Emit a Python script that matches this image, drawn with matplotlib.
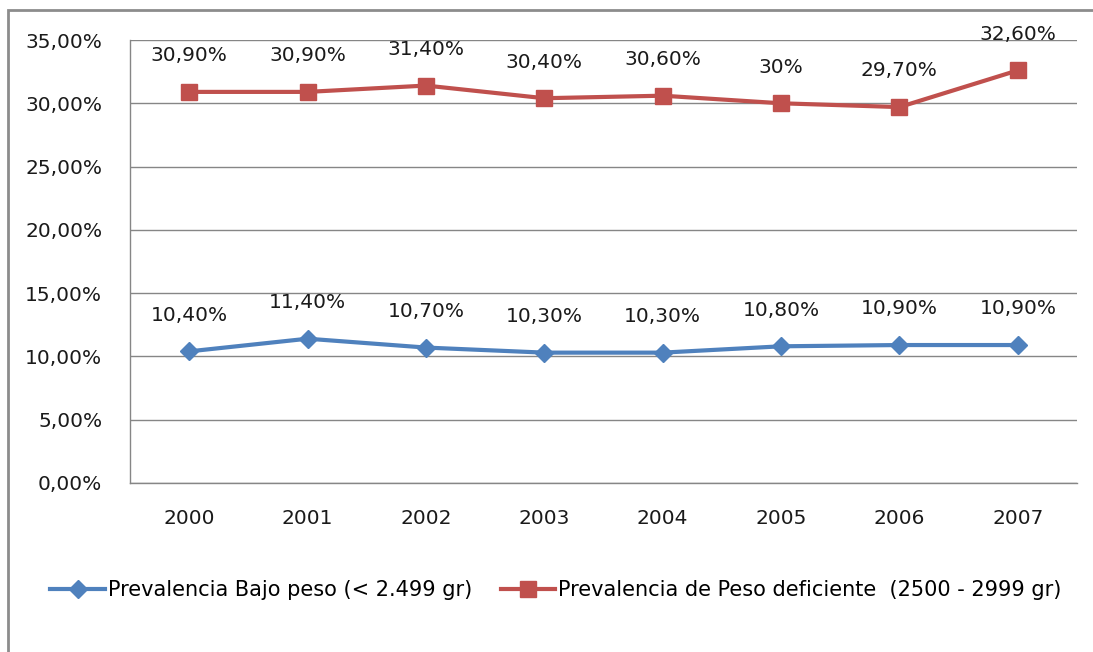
import matplotlib.pyplot as plt
from matplotlib.patches import Rectangle

years = ["2000", "2001", "2002", "2003", "2004", "2005", "2006", "2007"]
bajo_peso = [10.4, 11.4, 10.7, 10.3, 10.3, 10.8, 10.9, 10.9]
peso_deficiente = [30.9, 30.9, 31.4, 30.4, 30.6, 30.0, 29.7, 32.6]
bajo_labels = ["10,40%", "11,40%", "10,70%", "10,30%", "10,30%", "10,80%", "10,90%", "10,90%"]
def_labels = ["30,90%", "30,90%", "31,40%", "30,40%", "30,60%", "30%", "29,70%", "32,60%"]
y_ticks = [0, 5, 10, 15, 20, 25, 30, 35]
y_tick_labels = ["0,00%", "5,00%", "10,00%", "15,00%", "20,00%", "25,00%", "30,00%", "35,00%"]

blue = "#4F81BD"
red = "#C0504D"
grid = "#868686"

fig = plt.figure(figsize=(10.93, 6.52), dpi=100)
ax = fig.add_axes([130/1093, 1 - 483/652, 947/1093, 443/652])

x = range(len(years))
ax.plot(x, bajo_peso, color=blue, lw=3, marker="D", ms=9,
        label="Prevalencia Bajo peso (< 2.499 gr)")
ax.plot(x, peso_deficiente, color=red, lw=3, marker="s", ms=11,
        label="Prevalencia de Peso deficiente  (2500 - 2999 gr)")

for i in x:
    ax.annotate(bajo_labels[i], (i, bajo_peso[i]), xytext=(0, 26),
                textcoords="offset points", ha="center", va="center",
                fontsize=14.5, color="#1a1a1a")
    ax.annotate(def_labels[i], (i, peso_deficiente[i]), xytext=(0, 26),
                textcoords="offset points", ha="center", va="center",
                fontsize=14.5, color="#1a1a1a")

ax.set_xlim(-0.5, 7.5)
ax.set_ylim(0, 35)
ax.set_xticks(list(x))
ax.set_xticklabels(years)
ax.set_yticks(y_ticks)
ax.set_yticklabels(y_tick_labels)
ax.tick_params(axis="both", length=0, labelsize=14.5, labelcolor="#1a1a1a")
ax.tick_params(axis="y", pad=20)
ax.tick_params(axis="x", pad=19)
ax.grid(axis="y", color=grid, lw=1)
ax.set_axisbelow(True)
for s in ["top", "right"]:
    ax.spines[s].set_visible(False)
for s in ["left", "bottom"]:
    ax.spines[s].set_color(grid)
    ax.spines[s].set_linewidth(1)

fig.legend(loc="center left", bbox_to_anchor=(40/1093, 1 - 590/652), ncol=2,
           frameon=False, prop={"size": 15},
           handlelength=2.6, handletextpad=0.15, columnspacing=1.4, borderpad=0)

fig.patches.append(Rectangle((8/1093, -0.1), 1.2, 1.1 - 10/652, transform=fig.transFigure,
                             fill=False, edgecolor="#8c8c8c", lw=2))

fig.savefig("out.png", dpi=100)
